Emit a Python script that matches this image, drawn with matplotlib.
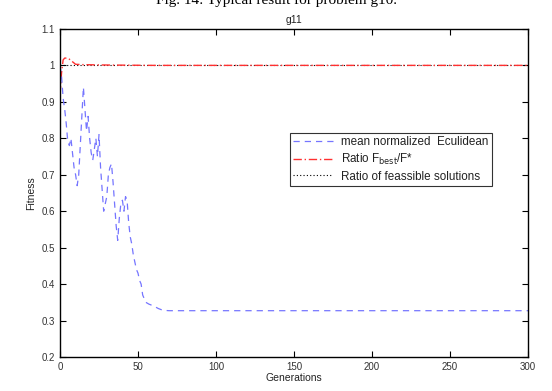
import matplotlib

matplotlib.use("Agg")
import matplotlib.pyplot as plt

# mean normalized Euclidean distance (blue dashed)
gen_blue = [0, 1, 2, 3, 4, 5, 6, 7, 8, 9, 10, 11, 12, 13, 14, 15, 16, 17, 18, 19,
            20, 21, 22, 23, 24, 25, 26, 27, 28, 29, 30, 31, 32, 33, 34, 35, 36,
            37, 38, 39, 40, 41, 42, 43, 44, 45, 46, 47, 48, 49, 50, 51, 52, 53,
            54, 55, 57, 60, 63, 66, 70, 100, 150, 200, 250, 300]
mean_dist = [1.0, 0.97, 0.91, 0.88, 0.84, 0.79, 0.78, 0.80, 0.76, 0.72, 0.70, 0.67,
             0.70, 0.78, 0.86, 0.94, 0.88, 0.82, 0.86, 0.80, 0.76, 0.74, 0.77, 0.80,
             0.75, 0.81, 0.72, 0.66, 0.60, 0.62, 0.64, 0.70, 0.72, 0.73, 0.68,
             0.62, 0.56, 0.52, 0.58, 0.62, 0.63, 0.60, 0.64, 0.63, 0.57, 0.53,
             0.51, 0.48, 0.46, 0.44, 0.43, 0.41, 0.40, 0.37, 0.36, 0.35, 0.345,
             0.34, 0.333, 0.328, 0.327, 0.327, 0.327, 0.327, 0.327, 0.327]

# ratio F_best / F* (red dash-dot)
gen_red = [0, 1, 2, 3, 4, 5, 6, 8, 10, 15, 30, 60, 100, 300]
ratio_best = [0.92, 0.98, 1.015, 1.02, 1.02, 1.02, 1.017, 1.01, 1.003, 1.002,
              1.001, 1.0, 1.0, 1.0]

# ratio of feasible solutions (black dotted)
gen_feas = [0, 300]
ratio_feas = [1.0, 1.0]

plt.rcParams["font.family"] = ["Liberation Sans", "DejaVu Sans"]

fig = plt.figure(figsize=(5.52, 3.91), dpi=100)
ax = fig.add_axes([0.1087, 0.087, 0.8478, 0.839])

ax.plot(gen_feas, ratio_feas, color="black", linestyle=(0, (1, 2)), linewidth=0.8,
        label="Ratio of feassible solutions")
ax.plot(gen_red, ratio_best, color="#ff3030", linestyle=(0, (6, 2, 1, 2)),
        linewidth=1.0, label=r"Ratio F$_{\mathrm{best}}$/F*")
ax.plot(gen_blue, mean_dist, color="#7575ff", linestyle=(0, (5, 4)), linewidth=0.9,
        label="mean normalized  Eculidean")

ax.set_xlim(0, 300)
ax.set_ylim(0.2, 1.1)
ax.set_xticks([0, 50, 100, 150, 200, 250, 300])
ax.set_yticks([0.2, 0.3, 0.4, 0.5, 0.6, 0.7, 0.8, 0.9, 1.0, 1.1])
ax.set_yticklabels(["0.2", "0.3", "0.4", "0.5", "0.6", "0.7", "0.8", "0.9", "1", "1.1"])
ax.tick_params(direction="in", top=True, right=True, length=4, width=0.8,
               labelsize=7, labelcolor="#333333")
for s in ax.spines.values():
    s.set_linewidth(1.0)

ax.set_xlabel("Generations", fontsize=7.5, color="#222222", labelpad=1)
ax.set_ylabel("Fitness", fontsize=7.5, color="#222222", labelpad=4)
ax.set_title("g11", fontsize=7.5, color="#222222", pad=4)

handles, labels = ax.get_legend_handles_labels()
leg = ax.legend(handles[::-1], labels[::-1], loc="upper left",
                bbox_to_anchor=(0.491, 0.683), fontsize=8.4, frameon=True,
                fancybox=False, edgecolor="black", handlelength=3.4,
                borderpad=0.3, labelspacing=0.3, handletextpad=0.7,
                borderaxespad=0.0)
leg.get_frame().set_linewidth(0.8)
for t in leg.get_texts():
    t.set_color("#222222")

fig.text(0.5, 1.0, "Fig. 14: Typical result for problem g10.", ha="center",
         va="center", fontsize=11, family=["Liberation Serif", "DejaVu Serif"])

fig.savefig("out.png", dpi=100)
plt.close(fig)
